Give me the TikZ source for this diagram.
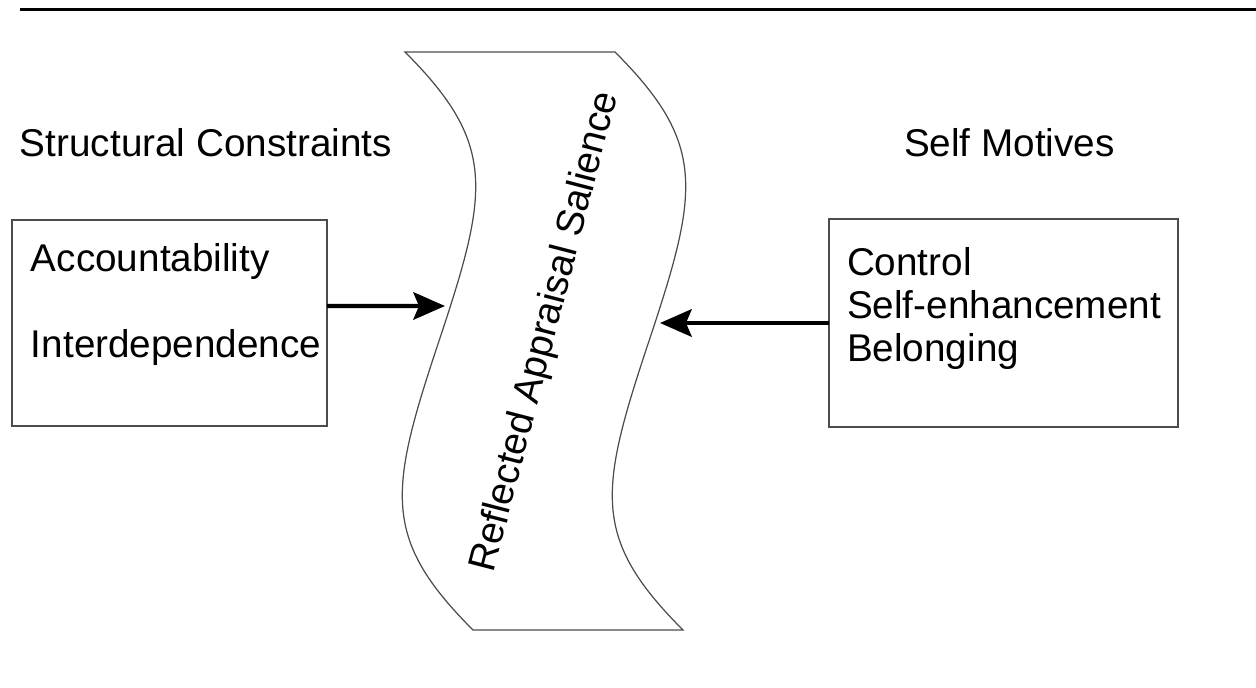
\documentclass[tikz,border=0pt]{standalone}
\usepackage{fontspec}
\setmainfont{Liberation Sans}
\usetikzlibrary{arrows.meta}
\begin{document}
\begin{tikzpicture}[x=0.01cm,y=-0.01cm,
  every node/.style={inner sep=0pt,outer sep=0pt,font=\fontsize{11}{12.5}\selectfont},
  panel/.style={draw=black!70,line width=0.35pt,rectangle},
  label/.style={anchor=base west},
  link/.style={line width=1.15pt,-{Stealth[length=9pt,width=7.8pt,inset=1.6pt]}}]
  \useasboundingbox (0,0) rectangle (1256,688);
  % rule across the top
  \draw[line width=0.85pt] (20,9.5) -- (1256,9.5);

  % headings
  \node[label] (hStruct) at (20,157) {Structural Constraints};
  \node[label] (hSelf) at (904,157) {Self Motives};

  % left box
  \node[panel,minimum width=3.15cm,minimum height=2.06cm] (lbox) at (169.5,323) {};
  \node[label] (acc) at (31,272) {Accountability};
  \node[label] (inter) at (31,358) {Interdependence};

  % right box
  \node[panel,minimum width=3.49cm,minimum height=2.08cm] (rbox) at (1003.5,323) {};
  \node[label] (ctrl) at (847,276) {Control};
  \node[label] (enh) at (847,319) {Self-enhancement};
  \node[label] (bel) at (847,362) {Belonging};

  % wavy band
  \draw[black!70,line width=0.35pt]
    (405,52) -- (615,52)
    .. controls (707,144) and (699,191) .. (649,341)
    .. controls (599,491) and (591,538) .. (683,630)
    -- (473,630)
    .. controls (381,538) and (389,491) .. (439,341)
    .. controls (489,191) and (497,144) .. (405,52) -- cycle;
  \node[rotate=75.5] (ras) at (546,332) {Reflected Appraisal Salience};

  % arrow ends on the band
  \coordinate (bandL) at (445,306);
  \coordinate (bandR) at (660,323);

  \draw[link] ([yshift=0.17cm]lbox.east) -- (bandL);
  \draw[link] (rbox.west) -- (bandR);
\end{tikzpicture}
\end{document}
